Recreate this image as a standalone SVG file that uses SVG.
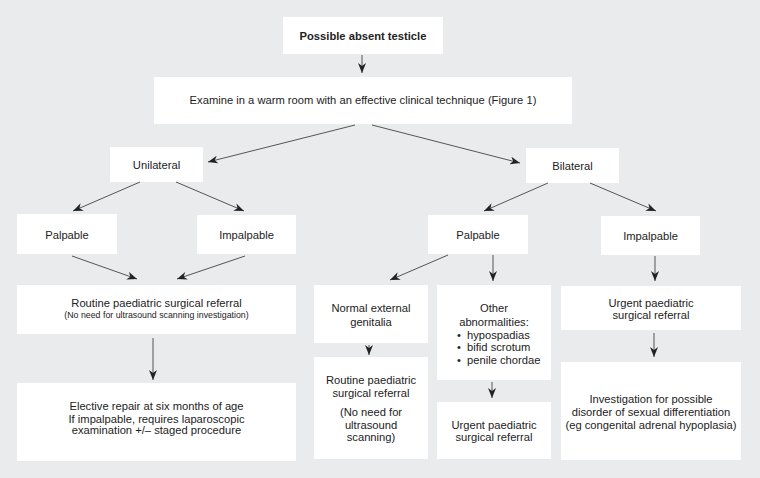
<svg xmlns="http://www.w3.org/2000/svg" width="760" height="478" viewBox="0 0 760 478">
<style>
.bg{fill:#e9ebed}
.box{fill:#ffffff}
text{font-family:"Liberation Sans",Arial,sans-serif;font-size:11.2px;fill:#222;text-anchor:middle}
.b{font-weight:bold}
.s{font-size:8.8px}
.l{text-anchor:start}
.c line{stroke:#555;stroke-width:1;marker-end:url(#ah)}
</style>
<defs>
<marker id="ah" markerUnits="userSpaceOnUse" markerWidth="10" markerHeight="8" refX="10" refY="4" orient="auto">
<path d="M0,0 L10,4 L0,8 L3,4 z" fill="#222"/>
</marker>
</defs>
<rect class="bg" x="0" y="0" width="760" height="478"/>
<g id="n-start"><rect class="box" x="283" y="17" width="160" height="37"/><text class="b" x="363" y="40">Possible absent testicle</text></g>
<g id="n-examine"><rect class="box" x="154" y="77" width="418" height="47"/><text x="363" y="104">Examine in a warm room with an effective clinical technique (Figure 1)</text></g>
<g id="n-unilateral"><rect class="box" x="110" y="147" width="93" height="35"/><text x="156.5" y="169">Unilateral</text></g>
<g id="n-bilateral"><rect class="box" x="526" y="148" width="93" height="35"/><text x="572.5" y="170">Bilateral</text></g>
<g id="n-palp-l"><rect class="box" x="17" y="214" width="100" height="40"/><text x="67" y="239">Palpable</text></g>
<g id="n-impalp-l"><rect class="box" x="197" y="215" width="99" height="39"/><text x="246.5" y="239">Impalpable</text></g>
<g id="n-palp-r"><rect class="box" x="428" y="215" width="100" height="39"/><text x="478" y="239">Palpable</text></g>
<g id="n-impalp-r"><rect class="box" x="601" y="216" width="99" height="39"/><text x="650.5" y="240">Impalpable</text></g>
<g id="n-routine-l"><rect class="box" x="17" y="285" width="279" height="49"/><text x="156.5" y="307">Routine paediatric surgical referral</text><text class="s" x="156.5" y="318">(No need for ultrasound scanning investigation)</text></g>
<g id="n-elective"><rect class="box" x="17" y="383" width="279" height="78"/><text x="156.5" y="410">Elective repair at six months of age</text><text x="156.5" y="423">If impalpable, requires laparoscopic</text><text x="156.5" y="434">examination +/– staged procedure</text></g>
<g id="n-normal"><rect class="box" x="314" y="285" width="114" height="58"/><text x="371" y="312">Normal external</text><text x="371" y="326">genitalia</text></g>
<g id="n-routine-m"><rect class="box" x="314" y="357" width="114" height="102"/><text x="371" y="384">Routine paediatric</text><text x="371" y="397">surgical referral</text><text x="371" y="416">(No need for</text><text x="371" y="429">ultrasound</text><text x="371" y="441">scanning)</text></g>
<g id="n-other"><rect class="box" x="437" y="285" width="114" height="95"/><text x="494" y="312">Other</text><text x="494" y="326">abnormalities:</text><text class="l" x="457" y="339">•</text><text class="l" x="467" y="339">hypospadias</text><text class="l" x="457" y="351">•</text><text class="l" x="467" y="351">bifid scrotum</text><text class="l" x="457" y="364">•</text><text class="l" x="467" y="364">penile chordae</text></g>
<g id="n-urgent-m"><rect class="box" x="437" y="402" width="114" height="57"/><text x="494" y="429">Urgent paediatric</text><text x="494" y="441">surgical referral</text></g>
<g id="n-urgent-r"><rect class="box" x="561" y="286" width="180" height="44"/><text x="651" y="307">Urgent paediatric</text><text x="651" y="319">surgical referral</text></g>
<g id="n-invest"><rect class="box" x="561" y="362" width="180" height="98"/><text x="651" y="403">Investigation for possible</text><text x="651" y="416">disorder of sexual differentiation</text><text x="651" y="429">(eg congenital adrenal hypoplasia)</text></g>
<g id="connectors" class="c">
<line x1="362" y1="55" x2="362" y2="73"/>
<line x1="355" y1="125" x2="208" y2="162"/>
<line x1="372" y1="125" x2="520" y2="163"/>
<line x1="140" y1="182" x2="73" y2="211"/>
<line x1="176" y1="182" x2="244" y2="211"/>
<line x1="548" y1="183" x2="484" y2="211"/>
<line x1="590" y1="183" x2="656" y2="211"/>
<line x1="72" y1="256" x2="137" y2="279"/>
<line x1="245" y1="256" x2="177" y2="279"/>
<line x1="153" y1="338" x2="153" y2="380"/>
<line x1="448" y1="255" x2="390" y2="280"/>
<line x1="493" y1="255" x2="493" y2="281"/>
<line x1="655" y1="256" x2="655" y2="281"/>
<line x1="369" y1="345" x2="369" y2="355"/>
<line x1="492" y1="382" x2="492" y2="398"/>
<line x1="654" y1="333" x2="654" y2="357"/>
</g>
</svg>
